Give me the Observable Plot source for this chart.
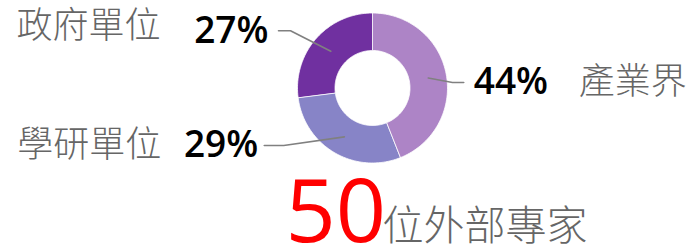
<!DOCTYPE html>
<html>
<head>
<meta charset="utf-8">
<script src="https://cdn.jsdelivr.net/npm/d3@7"></script>
<script src="https://cdn.jsdelivr.net/npm/@observablehq/plot@0.6"></script>
<style>
  html, body { margin: 0; padding: 0; background: #fff; }
  #chart svg { display: block; overflow: visible; }
</style>
</head>
<body>
<div id="chart"></div>
<script>
// ---- data ----
const categories = ["產業界", "學研單位", "政府單位"];
const percents = [44, 29, 27];
const sliceColors = ["#ad84c6", "#8784c7", "#7030a0"];
const totalExperts = [50];
const totalLabel = ["位外部專家"];

// ---- label layout (unit-circle coordinates for leader elbows / ends) ----
const labelLayout = {
  "產業界":   {elbow: [1.06, 0.08],  end: 1.21,  side: 1,  pctDx: 10,  catDx: 115, catDy: 0},
  "學研單位": {elbow: [-1.19, -0.76], end: -1.45, side: -1, pctDx: -6,  catDx: -103, catDy: 0},
  "政府單位": {elbow: [-1.10, 0.77],  end: -1.26, side: -1, pctDx: -10, catDx: -118, catDy: -4}
};

const innerRatio = 0.5;
const leaderRadius = 0.75;

const table = categories.map((c, i) => ({cat: c, pct: percents[i]}));
const arcs = d3.pie().sort(null).value(d => d.pct)(table);

// polygon band points between inner and outer arc for each slice
const bandPts = [];
arcs.forEach(a => {
  const n = 80;
  for (let k = 0; k <= n; k++) {
    const t = a.startAngle + (a.endAngle - a.startAngle) * k / n;
    bandPts.push({
      cat: a.data.cat,
      x1: innerRatio * Math.sin(t), y1: innerRatio * Math.cos(t),
      x2: Math.sin(t), y2: Math.cos(t)
    });
  }
});

// leader lines
const leaderPts = [];
const labelRows = [];
arcs.forEach(a => {
  const L = labelLayout[a.data.cat];
  const mid = (a.startAngle + a.endAngle) / 2;
  leaderPts.push({cat: a.data.cat, x: leaderRadius * Math.sin(mid), y: leaderRadius * Math.cos(mid)});
  leaderPts.push({cat: a.data.cat, x: L.elbow[0], y: L.elbow[1]});
  leaderPts.push({cat: a.data.cat, x: L.end, y: L.elbow[1]});
  labelRows.push({cat: a.data.cat, pct: a.data.pct, x: L.end, y: L.elbow[1], L});
});

const fontStack = "'Open Sans', 'Noto Sans CJK TC', sans-serif";

const chart = Plot.plot({
  width: 692,
  height: 245,
  margin: 0,
  x: {domain: [-1, 1], range: [297.5, 447.5], axis: null},
  y: {domain: [-1, 1], range: [163, 13], axis: null},
  color: {domain: categories, range: sliceColors},
  style: {fontFamily: fontStack, background: "#fff"},
  marks: [
    Plot.area(bandPts, {x1: "x1", y1: "y1", x2: "x2", y2: "y2", z: "cat", fill: "cat", stroke: "#fff", strokeWidth: 0.8}),
    Plot.line(leaderPts, {x: "x", y: "y", z: "cat", stroke: "#808080", strokeWidth: 1.6}),
    // percentage labels
    ...labelRows.map(r => Plot.text([r], {
      x: "x", y: "y", text: d => d.pct + "%",
      textAnchor: r.L.side > 0 ? "start" : "end",
      dx: r.L.pctDx, dy: 0,
      lineAnchor: "middle",
      fontSize: 37, fontWeight: 600, fill: "#000"
    })),
    // category labels
    ...labelRows.map(r => Plot.text([r], {
      x: "x", y: "y", text: "cat",
      textAnchor: r.L.side > 0 ? "start" : "end",
      dx: r.L.catDx, dy: r.L.catDy,
      lineAnchor: "middle",
      fontSize: 36, fontWeight: 300, fill: "#666",
      fontFamily: "'Noto Sans CJK TC', sans-serif"
    })),
    // total
    Plot.text(totalExperts, {
      frameAnchor: "bottom-left", text: d => String(d),
      dx: 285, dy: -4, textAnchor: "start", lineAnchor: "bottom",
      fontSize: 88, fill: "#ff0000"
    }),
    Plot.text(totalLabel, {
      frameAnchor: "bottom-left", text: d => d,
      dx: 382, dy: -6, textAnchor: "start", lineAnchor: "bottom",
      fontSize: 41, fill: "#666", fontWeight: 300,
      fontFamily: "'Noto Sans CJK TC', sans-serif"
    })
  ]
});

document.getElementById("chart").appendChild(chart);
</script>
</body>
</html>
